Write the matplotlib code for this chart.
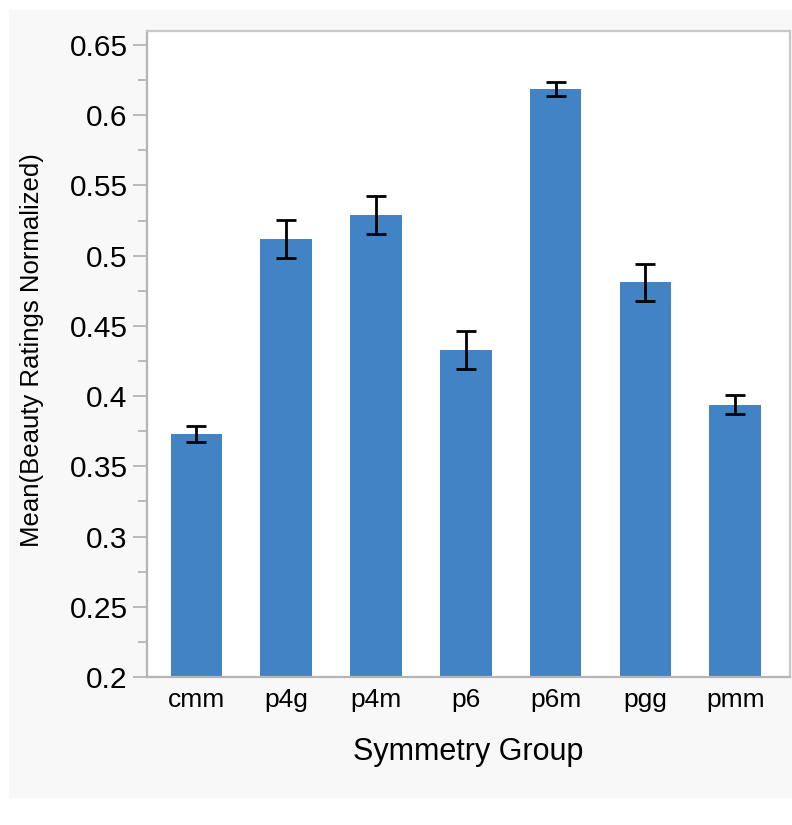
import numpy as np
from matplotlib import pyplot as plt
from matplotlib.patches import Rectangle
from matplotlib.ticker import MultipleLocator

plt.rcParams['font.family'] = ['Liberation Sans', 'DejaVu Sans']

groups = ['cmm', 'p4g', 'p4m', 'p6', 'p6m', 'pgg', 'pmm']
means = [0.373, 0.512, 0.529, 0.433, 0.619, 0.481, 0.394]
errs = [0.006, 0.0135, 0.0135, 0.0135, 0.005, 0.0133, 0.007]

W, H = 792, 825
fig = plt.figure(figsize=(W/100, H/100), dpi=100, facecolor='white')
# light grey panel behind the chart
fig.patches.append(Rectangle((9/W, 1-798/H), (W-9)/W, (798-10)/H,
                             transform=fig.transFigure, facecolor='#f8f8f8',
                             edgecolor='none', zorder=-10))

ax = fig.add_axes([147/W, 1-677/H, (790-147)/W, (677-31)/H])
ax.set_facecolor('white')

x = np.arange(len(groups))
ax.bar(x, means, width=0.573, color='#4283c6', zorder=2)
ax.errorbar(x, means, yerr=errs, fmt='none', ecolor='black',
            elinewidth=2, capsize=7.2, capthick=2, zorder=3)

ax.set_xlim(-0.55, 6.61)
ax.set_ylim(0.2, 0.66)
ax.yaxis.set_major_locator(MultipleLocator(0.05))
ax.yaxis.set_minor_locator(MultipleLocator(0.025))
ax.set_yticks(np.arange(0.2, 0.651, 0.05))
ax.set_yticklabels(['0.2', '0.25', '0.3', '0.35', '0.4', '0.45',
                    '0.5', '0.55', '0.6', '0.65'])
ax.set_xticks(x)
ax.set_xticklabels(groups)

ax.tick_params(axis='y', which='major', length=10, width=1.3,
               color='#b5b5b5', labelsize=21.5, pad=4)
ax.tick_params(axis='y', which='minor', length=6.5, width=1.3,
               color='#b5b5b5')
ax.tick_params(axis='x', length=0, labelsize=19, pad=8)

for side in ['left', 'bottom']:
    ax.spines[side].set_color('#b5b5b5')
    ax.spines[side].set_linewidth(1.6)
for side in ['top', 'right']:
    ax.spines[side].set_color('#c8c8c8')
    ax.spines[side].set_linewidth(1.6)

fig.text(468.5/W, 1-760/H, 'Symmetry Group', fontsize=22,
         ha='center', va='baseline')
fig.text(32/W, 1-350/H, 'Mean(Beauty Ratings Normalized)', fontsize=18.5,
         rotation=90, ha='center', va='center')

plt.savefig('out.png', dpi=100, facecolor=fig.get_facecolor())
